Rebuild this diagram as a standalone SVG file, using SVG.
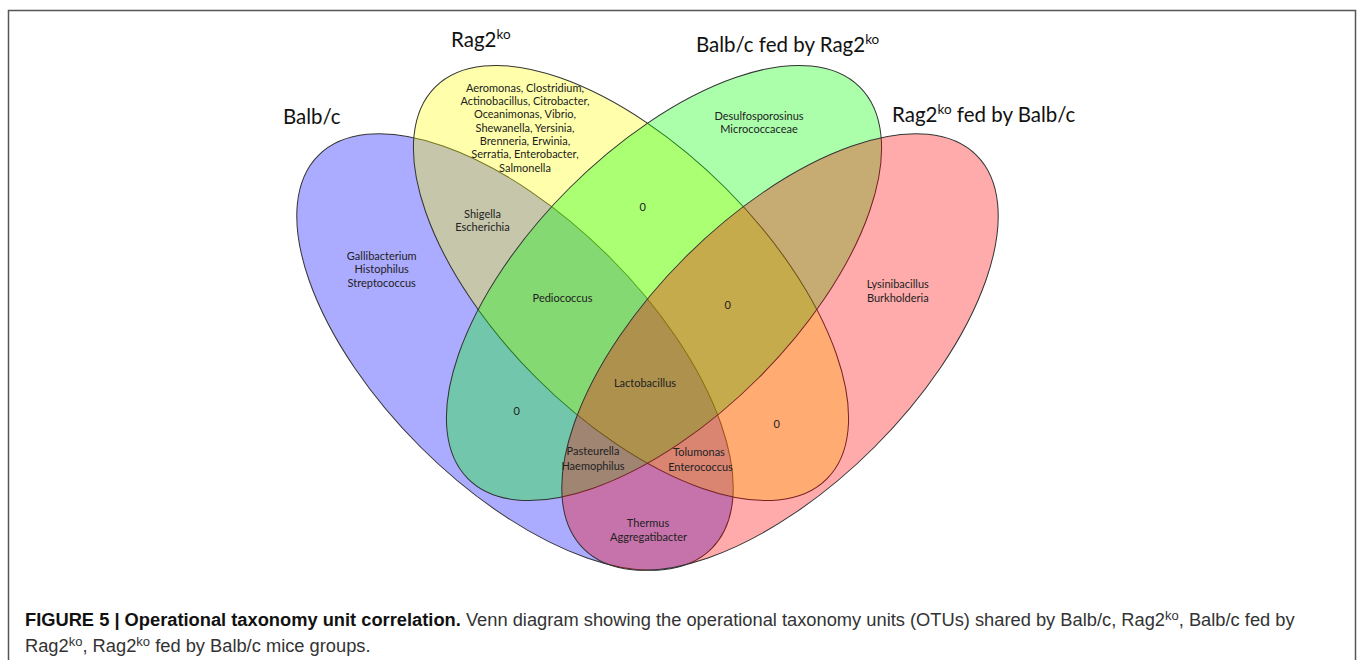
<svg xmlns="http://www.w3.org/2000/svg" width="1358" height="660" viewBox="0 0 1358 660">
<style>
.set{stroke:#333;stroke-width:1;fill-opacity:0.33}
.title{font-family:Lato,"Liberation Sans",sans-serif;font-size:20.5px;fill:#111}
.sup{font-size:13.5px}
.lbl{font-family:Lato,"Liberation Sans",sans-serif;font-size:11px;fill:#222;text-anchor:middle}
.cap{font-family:"Liberation Sans",Arial,sans-serif;font-size:18.3px;fill:#333}
.capb{font-weight:bold;fill:#111}
.csup{font-size:13px}
</style>
<rect width="1358" height="660" fill="#fff"/>
<path d="M8.5,660 V10.5 H1355.5 V660" fill="none" stroke="#555" stroke-width="1.5"/>

<g id="set-balbc">
<ellipse class="set" cx="515" cy="352" rx="278" ry="134" fill="#0000ff" transform="rotate(45 515 352)"/>
<text class="title" x="283" y="123.5">Balb/c</text>
</g>
<g id="set-rag2ko">
<ellipse class="set" cx="631" cy="283" rx="277" ry="134" fill="#ffff00" transform="rotate(45 631 283)"/>
<text class="title" x="451" y="47">Rag2<tspan class="sup" dy="-8">ko</tspan></text>
</g>
<g id="set-balbc-fed">
<ellipse class="set" cx="664" cy="283" rx="277" ry="134" fill="#00ff00" transform="rotate(-45 664 283)"/>
<text class="title" x="696" y="51.7">Balb/c fed by Rag2<tspan class="sup" dy="-8">ko</tspan></text>
</g>
<g id="set-rag2ko-fed">
<ellipse class="set" cx="780" cy="352" rx="278" ry="134" fill="#ff0000" transform="rotate(-45 780 352)"/>
<text class="title" x="892" y="122.3">Rag2<tspan class="sup" dy="-8">ko</tspan><tspan dy="8"> fed by Balb/c</tspan></text>
</g>

<g id="region-rag2ko-only">
<text class="lbl" x="525" y="91.7">Aeromonas, Clostridium,</text>
<text class="lbl" x="525" y="105">Actinobacillus, Citrobacter,</text>
<text class="lbl" x="525" y="118.3">Oceanimonas, Vibrio,</text>
<text class="lbl" x="525" y="131.7">Shewanella, Yersinia,</text>
<text class="lbl" x="525" y="145">Brenneria, Erwinia,</text>
<text class="lbl" x="525" y="158.3">Serratia, Enterobacter,</text>
<text class="lbl" x="525" y="171.7">Salmonella</text>
</g>
<g id="region-balbc-fed-only">
<text class="lbl" x="759" y="119.5">Desulfosporosinus</text>
<text class="lbl" x="759" y="133">Micrococcaceae</text>
</g>
<g id="region-balbc-only">
<text class="lbl" x="381.7" y="259.5">Gallibacterium</text>
<text class="lbl" x="381.7" y="273">Histophilus</text>
<text class="lbl" x="381.7" y="286.5">Streptococcus</text>
</g>
<g id="region-rag2ko-fed-only">
<text class="lbl" x="897.8" y="287.8">Lysinibacillus</text>
<text class="lbl" x="897.8" y="302">Burkholderia</text>
</g>
<g id="region-balbc-rag2ko">
<text class="lbl" x="482.5" y="217.8">Shigella</text>
<text class="lbl" x="482.5" y="231">Escherichia</text>
</g>
<g id="region-rag2ko-balbcfed">
<text class="lbl" x="642.7" y="211">0</text>
</g>
<g id="region-balbc-rag2ko-balbcfed">
<text class="lbl" x="562.5" y="302">Pediococcus</text>
</g>
<g id="region-rag2ko-balbcfed-rag2kofed">
<text class="lbl" x="727.7" y="308.8">0</text>
</g>
<g id="region-all">
<text class="lbl" x="645" y="387">Lactobacillus</text>
</g>
<g id="region-balbc-balbcfed">
<text class="lbl" x="516.7" y="414.5">0</text>
</g>
<g id="region-rag2ko-rag2kofed">
<text class="lbl" x="776.7" y="428">0</text>
</g>
<g id="region-balbc-balbcfed-rag2kofed">
<text class="lbl" x="593" y="454.8">Pasteurella</text>
<text class="lbl" x="593" y="469.8">Haemophilus</text>
</g>
<g id="region-balbc-rag2ko-rag2kofed">
<text class="lbl" x="699" y="455.5">Tolumonas</text>
<text class="lbl" x="700.5" y="470.5">Enterococcus</text>
</g>
<g id="region-balbc-rag2kofed">
<text class="lbl" x="648" y="527">Thermus</text>
<text class="lbl" x="648.5" y="541">Aggregatibacter</text>
</g>

<g id="caption">
<text class="cap" x="25" y="626"><tspan class="capb">FIGURE 5 | Operational taxonomy unit correlation.</tspan> Venn diagram showing the operational taxonomy units (OTUs) shared by Balb/c, Rag2<tspan class="csup" dy="-6">ko</tspan><tspan dy="6">, Balb/c fed by</tspan></text>
<text class="cap" x="25" y="652">Rag2<tspan class="csup" dy="-6">ko</tspan><tspan dy="6">, Rag2</tspan><tspan class="csup" dy="-6">ko</tspan><tspan dy="6"> fed by Balb/c mice groups.</tspan></text>
</g>
</svg>
